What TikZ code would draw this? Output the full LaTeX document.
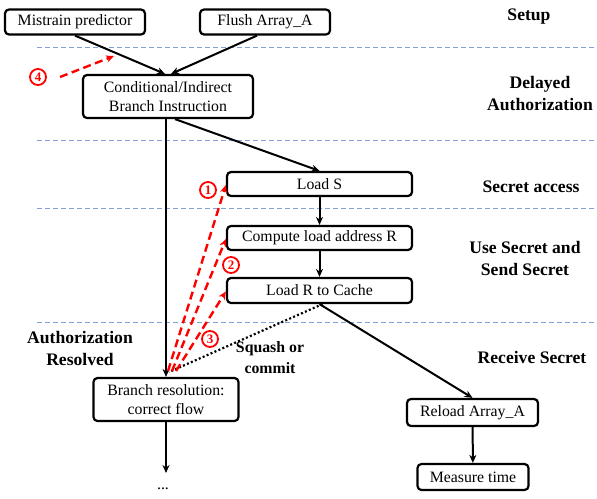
\documentclass[tikz,border=0pt]{standalone}
\usepackage{fontspec}
\setmainfont{Liberation Serif}
\usetikzlibrary{arrows.meta}
\begin{document}
\begin{tikzpicture}[x=1pt,y=-1pt,
  box/.style={draw, line width=2.2pt, rounded corners=4pt, inner sep=0pt, align=center,
    font=\fontsize{15.8}{19}\selectfont},
  lbl/.style={font=\fontsize{17.6}{22}\selectfont\bfseries, align=center},
  arr/.style={line width=2pt, -{Stealth[length=8pt,width=7pt]}},
  red arr/.style={line width=2.4pt, red, dash pattern=on 8pt off 4.5pt, -{Stealth[length=8pt,width=7pt]}},
  sep/.style={draw={rgb,255:red,130;green,160;blue,215}, line width=0.9pt, dash pattern=on 5pt off 3pt},
  num/.style={circle, draw=red, text=red, line width=1.8pt, inner sep=0pt, minimum size=16pt,
    font=\fontsize{13}{13}\selectfont\bfseries}]
\useasboundingbox (0,0) rectangle (597,498);
% separators
\draw[sep] (37,47) -- (597,47);
\draw[sep] (37,140) -- (597,140);
\draw[sep] (37,208) -- (597,208);
\draw[sep] (37,322) -- (597,322);
% boxes
\node[box, minimum width=140pt, minimum height=25pt] (mis) at (75,22) {Mistrain predictor};
\node[box, minimum width=130pt, minimum height=25pt] (flush) at (265,22) {Flush Array\_A};
\node[box, minimum width=170pt, minimum height=43pt] (cond) at (168,96.5) {Conditional/Indirect\\Branch Instruction};
\node[box, minimum width=185pt, minimum height=24pt] (loadS) at (319.5,184) {Load S};
\node[box, minimum width=185pt, minimum height=24pt] (comp) at (319.5,238) {Compute load address R};
\node[box, minimum width=185pt, minimum height=25pt] (loadR) at (319.5,290.5) {Load R to Cache};
\node[box, minimum width=145pt, minimum height=43pt] (branch) at (166,399.5) {Branch resolution:\\correct flow};
\node[box, minimum width=131pt, minimum height=27pt] (reload) at (472.5,412.5) {Reload Array\_A};
\node[box, minimum width=111pt, minimum height=26pt] (measure) at (473,477) {Measure time};
\node[font=\fontsize{15.8}{19}\selectfont, inner sep=0pt] (dots) at (163,489) {...};
% labels
\node[lbl] (l1) at (529,17) {Setup};
\node[lbl] (l2) at (540,93) {Delayed\\Authorization};
\node[lbl] (l3) at (531,187) {Secret access};
\node[lbl] (l4) at (525,258) {Use Secret and\\Send Secret};
\node[lbl] (l5) at (532,357) {Receive Secret};
\node[lbl] (l6) at (80,348) {Authorization\\Resolved};
\node[lbl, font=\fontsize{15.8}{21}\selectfont\bfseries] (l7) at (270,358) {Squash or\\commit};
% black arrows
\draw[arr] (mis.south) -- ([xshift=-3pt]cond.north);
\draw[arr] ([xshift=-8pt]flush.south) -- ([xshift=3pt]cond.north);
\draw[arr] ([xshift=7pt]cond.south) -- (loadS.north);
\draw[arr] (branch.north |- cond.south) -- (branch.north);
\draw[arr] (loadS) -- (comp);
\draw[arr] (comp) -- (loadR);
\draw[arr] (loadR.south) -- (reload.north);
\draw[arr] (reload) -- (measure);
\coordinate (dtop) at (166,473);
\draw[arr] (branch.south) -- (dtop);
% dotted
\coordinate (dend) at (169,372);
\draw[line width=2.2pt, dash pattern=on 2pt off 2.3pt] ([xshift=3pt]loadR.south) -- (dend);
% red dashed
\coordinate (r1) at (168,371);
\coordinate (r2) at (172,371);
\coordinate (r3) at (176,371);
\draw[red arr] (r1) -- ([yshift=-1pt]loadS.west);
\draw[red arr] (r2) -- ([yshift=-1pt]comp.west);
\draw[red arr] (r3) -- ([yshift=-1pt]loadR.west);
\coordinate (s4) at (60,77);
\coordinate (e4) at (114,56);
\draw[red arr] (s4) -- (e4);
\node[num] (n1) at (208,190) {1};
\node[num] (n2) at (231,265) {2};
\node[num] (n3) at (210,339) {3};
\node[num] (n4) at (38,77) {4};
\end{tikzpicture}
\end{document}
